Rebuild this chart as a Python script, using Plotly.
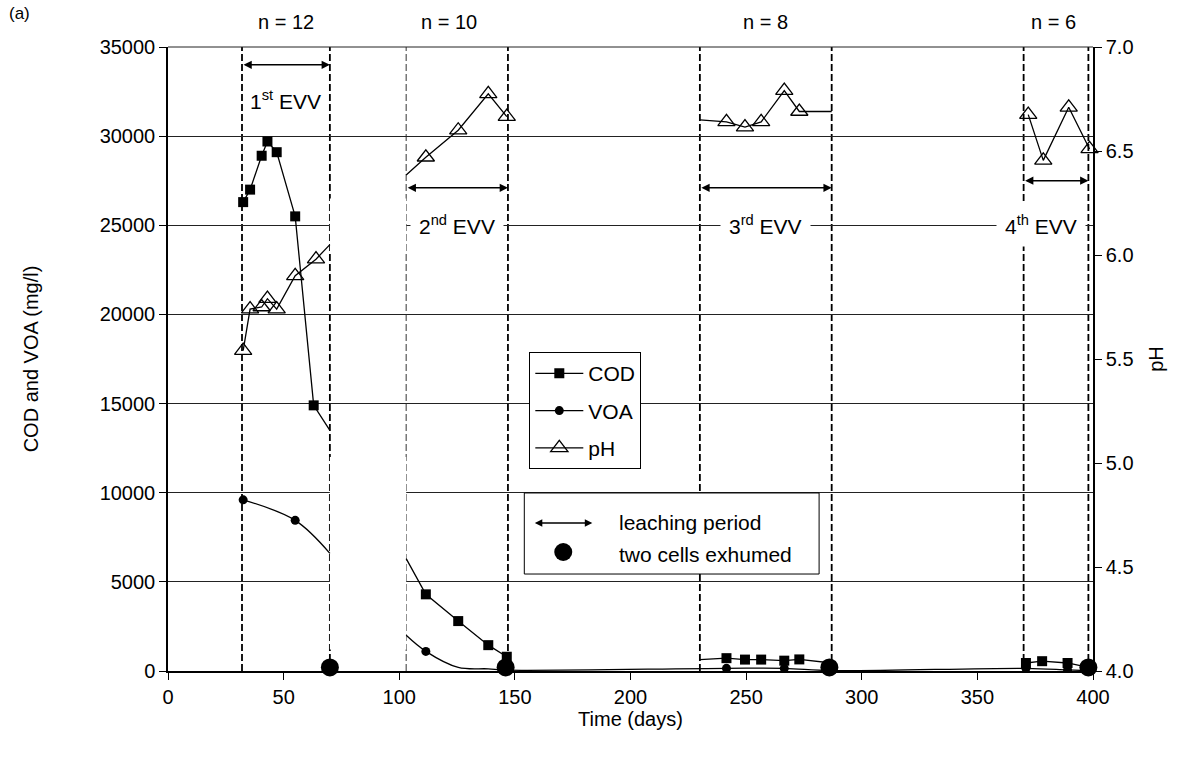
import plotly.graph_objects as go

# ---------------- data ----------------
LEACH_START = [32, 103, 230, 370]
LEACH_END = [70, 147, 287, 398]
EXHUMED_DAY = [70, 146, 286, 398]
N_CELLS = [12, 10, 8, 6]
EVV_LABELS = ["1<sup>st</sup> EVV", "2<sup>nd</sup> EVV", "3<sup>rd</sup> EVV", "4<sup>th</sup> EVV"]

COD_DAY = [32.5, 35.5, 40.5, 43, 47, 55, 63, 70,
           103, 111.5, 125.5, 138.5, 146.5,
           230, 241.5, 249.5, 256.5, 266.5, 273, 287,
           371, 378, 389, 398]
COD_MGL = [26300, 27000, 28900, 29700, 29100, 25500, 14900, 13500,
           6300, 4300, 2800, 1450, 800,
           640, 720, 640, 640, 580, 650, 450,
           450, 550, 450, 200]
COD_SEG = [1] * 8 + [2] * 5 + [3] * 7 + [4] * 4
COD_MARK = [1, 1, 1, 1, 1, 1, 1, 0,
            0, 1, 1, 1, 1,
            0, 1, 1, 1, 1, 1, 0,
            1, 1, 1, 0]

VOA_DAY = [32.5, 55, 70,
           103, 111.5, 125.5, 138.5, 146.5, 241.5, 266.5, 287, 371, 389, 398]
VOA_MGL = [9600, 8450, 6600,
           2000, 1100, 200, 120, 50, 150, 150, 20, 150, 60, 20]
VOA_SEG = [1] * 3 + [2] * 11
VOA_MARK = [1, 1, 0,
            0, 1, 0, 0, 0, 1, 1, 0, 1, 1, 0]

PH_DAY = [32.5, 35.5, 40.5, 43, 47, 55, 64, 70,
          103, 111.5, 125.5, 138.5, 146.5,
          230, 241.5, 249.5, 256.5, 266.5, 273, 287,
          372, 378.5, 389.5, 398.5]
PH_VAL = [5.54, 5.74, 5.75, 5.79, 5.74, 5.90, 5.98, 6.05,
          6.385, 6.47, 6.60, 6.775, 6.665,
          6.65, 6.64, 6.615, 6.64, 6.79, 6.69, 6.69,
          6.675, 6.455, 6.71, 6.51]
PH_SEG = [1] * 8 + [2] * 5 + [3] * 7 + [4] * 4
PH_MARK = [1, 1, 1, 1, 1, 1, 1, 0,
           0, 1, 1, 1, 1,
           0, 1, 1, 1, 1, 1, 0,
           1, 1, 1, 1]

# ---------------- helpers ----------------
FONT = "Liberation Sans, Arial, sans-serif"
BLACK = "black"


def segmented(days, vals, seg):
    xs, ys, prev = [], [], None
    for d, v, s in zip(days, vals, seg):
        if prev is not None and s != prev:
            xs.append(None)
            ys.append(None)
        xs.append(d)
        ys.append(v)
        prev = s
    return xs, ys


def marked(days, vals, mark):
    return ([d for d, m in zip(days, mark) if m], [v for v, m in zip(vals, mark) if m])


fig = go.Figure()

# lines
for days, vals, seg, axis, shape in [
    (COD_DAY, COD_MGL, COD_SEG, "y", "linear"),
    (VOA_DAY, VOA_MGL, VOA_SEG, "y", "spline"),
    (PH_DAY, PH_VAL, PH_SEG, "y2", "linear"),
]:
    xs, ys = segmented(days, vals, seg)
    fig.add_trace(go.Scatter(x=xs, y=ys, mode="lines", yaxis=axis, showlegend=False,
                             connectgaps=False, hoverinfo="skip",
                             line=dict(color=BLACK, width=1.3, shape=shape, smoothing=1.0)))

# markers
mx, my = marked(COD_DAY, COD_MGL, COD_MARK)
fig.add_trace(go.Scatter(x=mx, y=my, mode="markers", showlegend=False,
                         marker=dict(symbol="square", size=10, color=BLACK)))
mx, my = marked(VOA_DAY, VOA_MGL, VOA_MARK)
fig.add_trace(go.Scatter(x=mx, y=my, mode="markers", showlegend=False,
                         marker=dict(symbol="circle", size=9, color=BLACK)))

# exhumed cells
fig.add_trace(go.Scatter(x=EXHUMED_DAY, y=[200] * len(EXHUMED_DAY), mode="markers",
                         showlegend=False, cliponaxis=False,
                         marker=dict(symbol="circle", size=18, color=BLACK)))

mx, my = marked(PH_DAY, PH_VAL, PH_MARK)
fig.add_trace(go.Scatter(x=mx, y=my, mode="markers", yaxis="y2", showlegend=False,
                         cliponaxis=False,
                         marker=dict(symbol="triangle-up-open", size=15, color=BLACK,
                                     line=dict(width=1.3, color=BLACK))))

# legend entries
fig.add_trace(go.Scatter(x=[None], y=[None], mode="lines+markers", name="COD", legendgroup="a",
                         line=dict(color=BLACK, width=1.3),
                         marker=dict(symbol="square", size=10, color=BLACK)))
fig.add_trace(go.Scatter(x=[None], y=[None], mode="lines+markers", name="VOA", legendgroup="b",
                         line=dict(color=BLACK, width=1.3),
                         marker=dict(symbol="circle", size=9, color=BLACK)))
fig.add_trace(go.Scatter(x=[None], y=[None], mode="lines+markers", name="pH", legendgroup="c",
                         yaxis="y2",
                         line=dict(color=BLACK, width=1.3),
                         marker=dict(symbol="triangle-up-open", size=15, color=BLACK,
                                     line=dict(width=1.3, color=BLACK))))

shapes = []
# gaps in the grid between the first two periods
shapes.append(dict(type="rect", xref="x", yref="y", x0=LEACH_END[0], x1=LEACH_START[1],
                   y0=1200, y1=12000, fillcolor="white", line=dict(width=0), layer="between"))
shapes.append(dict(type="rect", xref="x", yref="y", x0=LEACH_END[0], x1=LEACH_START[1],
                   y0=23500, y1=26500, fillcolor="white", line=dict(width=0), layer="between"))
# dashed period boundaries
for i, (s, e) in enumerate(zip(LEACH_START, LEACH_END)):
    for xv in (s, e):
        faint = (i == 1 and xv == s)
        shapes.append(dict(type="line", xref="x", yref="paper", x0=xv, x1=xv, y0=0, y1=1,
                           line=dict(color="#555555" if faint else BLACK,
                                     width=1.2 if faint else 1.8, dash="7px,3px"),
                           layer="between"))
# top border gridline
shapes.append(dict(type="line", xref="paper", yref="paper", x0=0, x1=1, y0=1, y1=1,
                   line=dict(color="#222222", width=1), layer="between"))
# second legend box
L2 = dict(x0=0.3852, x1=0.7039, y0=0.1554, y1=0.2853)
shapes.append(dict(type="rect", xref="paper", yref="paper", **L2, fillcolor="white",
                   line=dict(color=BLACK, width=1), layer="above"))
shapes.append(dict(type="circle", xref="paper", yref="paper", xsizemode="pixel", ysizemode="pixel",
                   xanchor=0.4273, yanchor=0.1907, x0=-9, x1=9, y0=-9, y1=9,
                   fillcolor=BLACK, line=dict(color=BLACK, width=0), layer="above"))

ann = []
ARROW_Y = [34000, 27100, 27100, 27500]
EVV_Y = [32000, 25000, 25000, 25000]
EVV_SHIFT = [0, 0, 0, -15]
N_SHIFT = [0, -8, 0, -3]
for i, (s, e) in enumerate(zip(LEACH_START, LEACH_END)):
    mid = (s + e) / 2
    ann.append(dict(x=e, y=ARROW_Y[i], xref="x", yref="y", ax=s, ay=ARROW_Y[i],
                    axref="x", ayref="y", text="", showarrow=True, arrowhead=2,
                    arrowside="end+start", arrowsize=1.1, arrowwidth=1.5, arrowcolor=BLACK,
                    standoff=0, startstandoff=0))
    ann.append(dict(x=mid, y=EVV_Y[i], xref="x", yref="y", text=EVV_LABELS[i], showarrow=False,
                    xshift=EVV_SHIFT[i], font=dict(size=21, color=BLACK, family=FONT),
                    bgcolor="white" if i > 0 else "rgba(0,0,0,0)", borderpad=8))
    ann.append(dict(x=mid, y=1.04, xref="x", yref="paper", text="n = %d" % N_CELLS[i],
                    showarrow=False, xshift=N_SHIFT[i], yanchor="middle", xanchor="center",
                    font=dict(size=20, color=BLACK, family=FONT)))

ann.append(dict(x=-0.174, y=1.053, xref="paper", yref="paper", text="(a)", showarrow=False,
                xanchor="left", yanchor="middle", font=dict(size=17, color=BLACK, family=FONT)))
# second legend contents
ann.append(dict(x=0.4587, y=0.2372, xref="paper", yref="paper", ax=-59, ay=0,
                axref="pixel", ayref="pixel", text="", showarrow=True, arrowhead=2,
                arrowside="end+start", arrowsize=1, arrowwidth=1.5, arrowcolor=BLACK,
                standoff=0, startstandoff=0))
ann.append(dict(x=0.4857, y=0.2372, xref="paper", yref="paper", text="leaching period",
                showarrow=False, xanchor="left", yanchor="middle",
                font=dict(size=21, color=BLACK, family=FONT)))
ann.append(dict(x=0.4857, y=0.1859, xref="paper", yref="paper", text="two cells exhumed",
                showarrow=False, xanchor="left", yanchor="middle",
                font=dict(size=21, color=BLACK, family=FONT)))

fig.update_layout(
    width=1183, height=759,
    margin=dict(l=168, r=90, t=47, b=88),
    paper_bgcolor="white", plot_bgcolor="white",
    font=dict(family=FONT, size=20, color=BLACK),
    shapes=shapes, annotations=ann,
    showlegend=True,
    legend=dict(x=0.3906, y=0.511, xanchor="left", yanchor="top",
                bgcolor="white", bordercolor=BLACK, borderwidth=1,
                font=dict(size=21, family=FONT, color=BLACK),
                itemwidth=48,
                tracegroupgap=7, traceorder="grouped"),
    xaxis=dict(range=[0, 400], dtick=50, tick0=0, ticks="outside", ticklen=7, tickwidth=1.2,
               tickcolor=BLACK, showline=True, linecolor=BLACK, linewidth=1.5,
               showgrid=False, zeroline=False,
               title=dict(text="Time (days)", standoff=4, font=dict(size=20))),
    yaxis=dict(range=[0, 35000], dtick=5000, tick0=0, tickformat="d", ticks="outside",
               ticklen=7, tickwidth=1.2, tickcolor=BLACK,
               showline=True, linecolor=BLACK, linewidth=1.5,
               showgrid=True, gridcolor="#222222", gridwidth=1, zeroline=False,
               title=dict(text="COD and VOA (mg/l)", standoff=56, font=dict(size=20))),
    yaxis2=dict(range=[4, 7], dtick=0.5, tick0=4, tickformat=".1f", overlaying="y", side="right",
                ticks="outside", ticklen=7, tickwidth=1.2, tickcolor=BLACK,
                showline=True, linecolor=BLACK, linewidth=1.5, showgrid=False, zeroline=False,
                title=dict(text="pH", standoff=16, font=dict(size=20))),
)

fig.write_html("out.html")
